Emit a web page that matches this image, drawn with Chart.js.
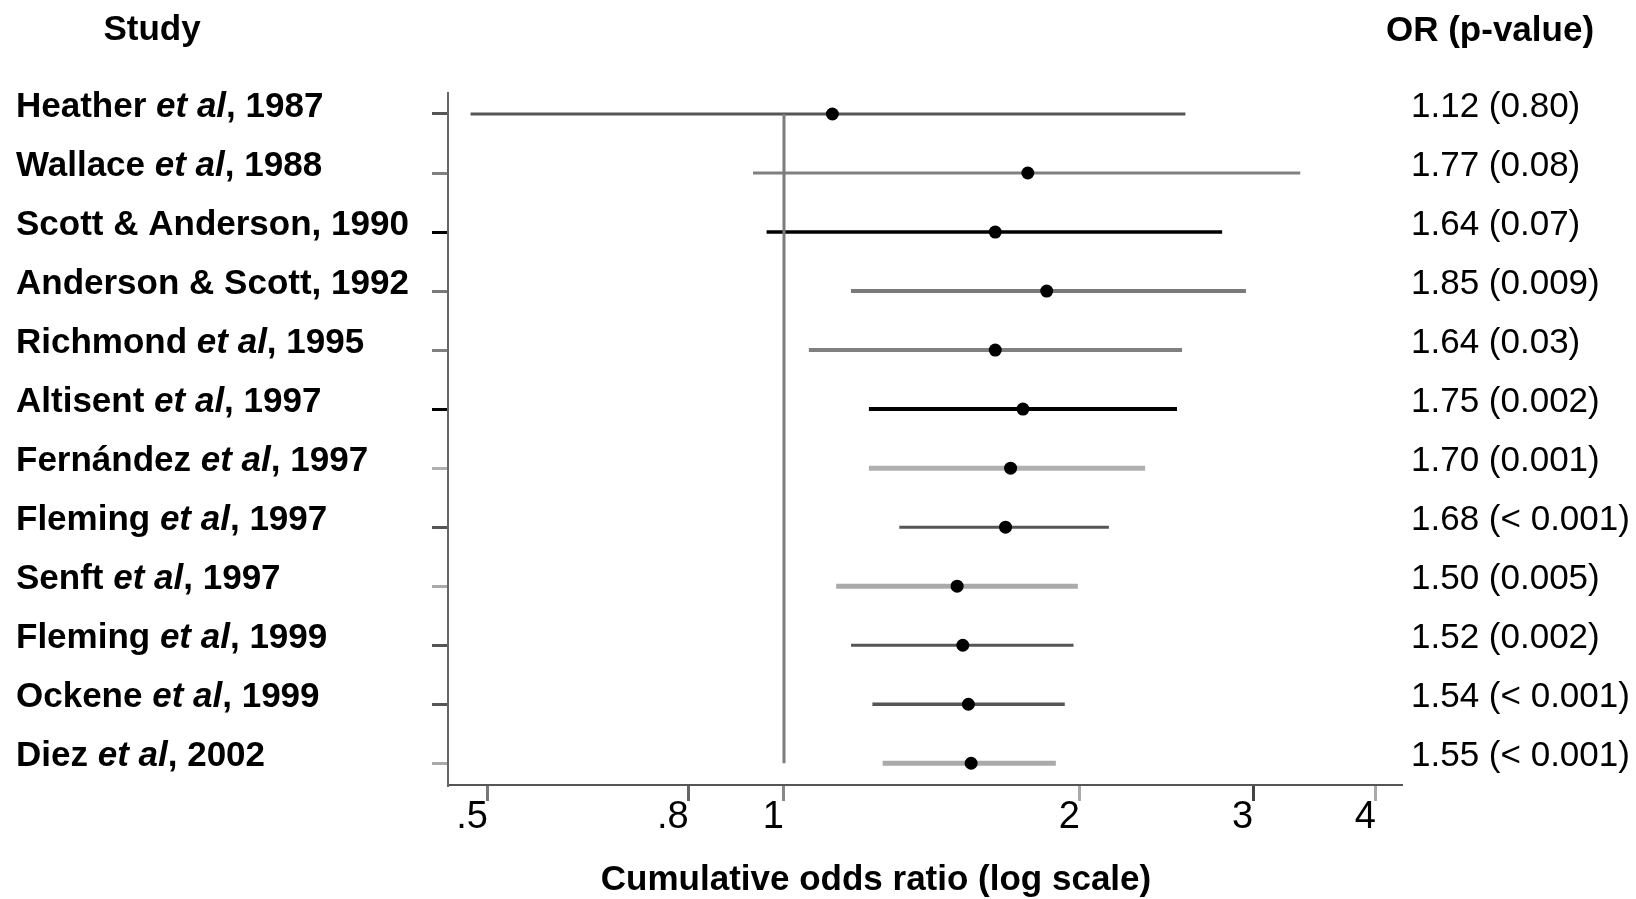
<!DOCTYPE html>
<html>
<head>
<meta charset="utf-8">
<script src="https://cdn.jsdelivr.net/npm/chart.js@4.4.1/dist/chart.umd.min.js"></script>
<style>
html,body{margin:0;padding:0;background:#fff;}
canvas{display:block;}
</style>
</head>
<body>
<canvas id="c" width="1636" height="899"></canvas>
<script>
// ---- data ----
const studies = [
  "Heather et al, 1987",
  "Wallace et al, 1988",
  "Scott & Anderson, 1990",
  "Anderson & Scott, 1992",
  "Richmond et al, 1995",
  "Altisent et al, 1997",
  "Fernández et al, 1997",
  "Fleming et al, 1997",
  "Senft et al, 1997",
  "Fleming et al, 1999",
  "Ockene et al, 1999",
  "Diez et al, 2002"
];
const orValues = [1.12, 1.77, 1.64, 1.85, 1.64, 1.75, 1.70, 1.68, 1.50, 1.52, 1.54, 1.55];
const pValues = ["0.80", "0.08", "0.07", "0.009", "0.03", "0.002", "0.001", "< 0.001", "0.005", "0.002", "< 0.001", "< 0.001"];
const ciLower = [0.48, 0.93, 0.96, 1.17, 1.06, 1.22, 1.22, 1.31, 1.13, 1.17, 1.23, 1.26];
const ciUpper = [2.56, 3.35, 2.79, 2.95, 2.54, 2.51, 2.33, 2.14, 1.99, 1.97, 1.93, 1.89];
const nullValue = 1;
const xTickValues = [0.5, 0.8, 1, 2, 3, 4];
const xTickLabels = [".5", ".8", "1", "2", "3", "4"];
const headerLeft = "Study";
const headerRight = "OR (p-value)";
const xTitle = "Cumulative odds ratio (log scale)";

// ---- styles ----
const ciColors = ["#555555", "#808080", "#000000", "#7a7a7a", "#808080", "#000000",
                  "#b0b0b0", "#555555", "#aaaaaa", "#555555", "#555555", "#aaaaaa"];
const ciWidths = [3, 3, 3.5, 4, 4, 4, 5, 3, 5, 3, 3.5, 5];
const xTickColors = ["#777777", "#666666", "#888888", "#aaaaaa", "#444444", "#aaaaaa"];

const FONT = "'Liberation Sans', Arial, Helvetica, sans-serif";
Chart.defaults.font.family = FONT;

const rowIdx = studies.map((_, i) => i + 1);

const datasets = [];
datasets.push({
  label: "OR",
  data: orValues.map((v, i) => ({ x: v, y: rowIdx[i] })),
  showLine: false,
  pointRadius: 6.5,
  pointBackgroundColor: "#000",
  pointBorderWidth: 0,
  order: 0
});
datasets.push({
  label: "null",
  data: [{ x: nullValue, y: rowIdx[0] }, { x: nullValue, y: rowIdx[rowIdx.length - 1] }],
  showLine: true,
  borderColor: "#7c7c7c",
  borderWidth: 3,
  pointRadius: 0,
  order: 1
});
studies.forEach((s, i) => {
  datasets.push({
    label: s,
    data: [{ x: ciLower[i], y: rowIdx[i] }, { x: ciUpper[i], y: rowIdx[i] }],
    showLine: true,
    borderColor: ciColors[i],
    borderWidth: ciWidths[i],
    borderCapStyle: "butt",
    pointRadius: 0,
    order: 2
  });
});

const textPlugin = {
  id: "texts",
  afterDraw(chart) {
    const ctx = chart.ctx;
    const ys = chart.scales.y;
    const bold = "bold 35px " + FONT;
    const boldItalic = "italic bold 35px " + FONT;
    const regular = "35px " + FONT;
    ctx.save();
    ctx.fillStyle = "#000";
    ctx.textBaseline = "middle";
    ctx.font = bold;
    ctx.textAlign = "center";
    ctx.fillText(headerLeft, 152, 30);
    ctx.fillText(headerRight, 1490, 31);
    ctx.fillText(xTitle, 876, 880);
    ctx.textAlign = "left";
    studies.forEach((s, i) => {
      const y = ys.getPixelForValue(rowIdx[i]) - 7;
      const parts = s.split(" et al");
      if (parts.length > 1) {
        let x = 16;
        ctx.font = bold;
        ctx.fillText(parts[0] + " ", x, y);
        x += ctx.measureText(parts[0] + " ").width;
        ctx.font = boldItalic;
        ctx.fillText("et al", x, y);
        x += ctx.measureText("et al").width;
        ctx.font = bold;
        ctx.fillText(parts[1], x, y);
      } else {
        ctx.font = bold;
        ctx.fillText(s, 16, y);
      }
      ctx.font = regular;
      ctx.fillText(orValues[i].toFixed(2) + " (" + pValues[i] + ")", 1411, y);
    });
    ctx.restore();
  }
};

new Chart(document.getElementById("c"), {
  type: "scatter",
  data: { datasets },
  plugins: [textPlugin],
  options: {
    responsive: false,
    animation: false,
    devicePixelRatio: 1,
    layout: { padding: { left: 448, right: 235, top: 93, bottom: 0 } },
    plugins: { legend: { display: false }, tooltip: { enabled: false } },
    scales: {
      x: {
        type: "logarithmic",
        position: "bottom",
        min: 0.4553,
        max: 4.2413,
        afterBuildTicks: s => { s.ticks = xTickValues.map(v => ({ value: v })); },
        afterFit: s => { s.height = 114; },
        ticks: {
          callback: v => xTickLabels[xTickValues.indexOf(v)],
          align: "end",
          padding: -2,
          color: "#000",
          autoSkip: false,
          maxRotation: 0,
          font: { size: 38, lineHeight: 1 }
        },
        grid: {
          drawOnChartArea: false,
          tickLength: 16,
          lineWidth: 3,
          color: c => xTickColors[c.index] || "#777"
        },
        border: { color: "#555", width: 2 }
      },
      y: {
        type: "linear",
        reverse: true,
        min: 0.6443,
        max: 12.368,
        afterBuildTicks: s => { s.ticks = rowIdx.map(v => ({ value: v })); },
        afterFit: s => { s.width = 0; },
        ticks: { display: false },
        grid: {
          drawOnChartArea: false,
          tickLength: 16,
          lineWidth: 3,
          color: c => ciColors[c.index] || "#777"
        },
        border: { color: "#666", width: 2 }
      }
    }
  }
});
</script>
</body>
</html>
